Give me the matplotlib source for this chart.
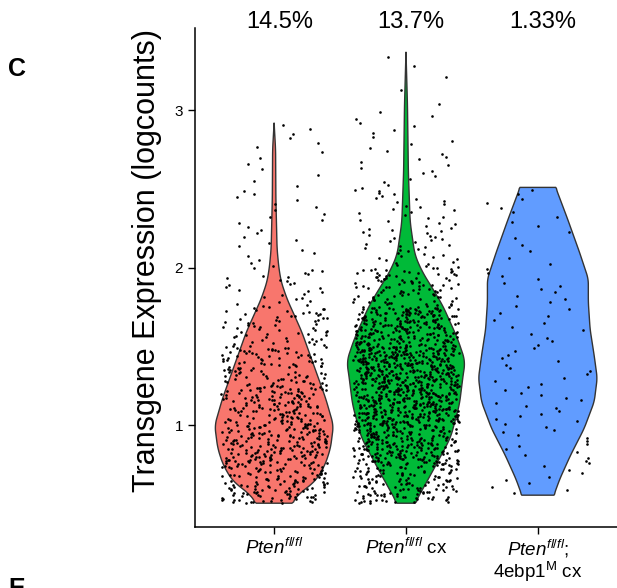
import numpy as np
import matplotlib
matplotlib.use("Agg")
import matplotlib.pyplot as plt

plt.rcParams["font.family"] = ["Liberation Sans", "DejaVu Sans"]
plt.rcParams["mathtext.fontset"] = "custom"
plt.rcParams["mathtext.rm"] = "Liberation Sans"
plt.rcParams["mathtext.it"] = "Liberation Sans:italic"

# groups
groups = ["red", "green", "blue"]
tick_labels = [r"$\mathit{Pten}^{\mathit{fl/fl}}$",
               r"$\mathit{Pten}^{\mathit{fl/fl}}$ cx",
               r"$\mathit{Pten}^{\mathit{fl/fl}}\mathit{;}$" + "\n" + r"4ebp1$^{\mathrm{M}}$ cx"]
percent_labels = ["14.5%", "13.7%", "1.33%"]
colors = ["#F8766D", "#00BA38", "#619CFF"]

# violin outlines: expression level and relative half width (1 = widest)
red_levels = [0.506, 0.56, 0.646, 0.75, 0.854, 1.0, 1.17, 1.38, 1.59, 1.70, 1.80, 1.91, 2.0, 2.12, 2.44, 2.75, 2.92]
red_width = [0.30, 0.40, 0.70, 0.86, 0.95, 1.0, 0.87, 0.67, 0.47, 0.34, 0.22, 0.12, 0.08, 0.05, 0.03, 0.025, 0.0]
green_levels = [0.506, 0.71, 0.92, 1.13, 1.34, 1.405, 1.55, 1.76, 1.88, 1.97, 2.08, 2.29, 2.61, 3.03, 3.37]
green_width = [0.15, 0.45, 0.75, 0.90, 0.97, 1.0, 0.87, 0.62, 0.43, 0.28, 0.15, 0.07, 0.04, 0.025, 0.0]
blue_levels = [0.557, 0.66, 0.81, 0.98, 1.15, 1.30, 1.44, 1.61, 1.78, 1.93, 2.10, 2.31, 2.51]
blue_width = [0.27, 0.37, 0.55, 0.78, 0.95, 1.0, 0.95, 0.88, 0.85, 0.85, 0.70, 0.50, 0.30]

# cell counts per expression bin
red_edges = [0.506, 0.75, 1.0, 1.25, 1.5, 1.75, 2.0, 2.25, 2.5, 2.75, 2.92]
red_counts = [130, 165, 140, 100, 62, 28, 12, 12, 7, 6]
green_edges = [0.506, 0.75, 1.0, 1.25, 1.5, 1.75, 2.0, 2.25, 2.5, 2.75, 3.0, 3.25, 3.37]
green_counts = [130, 230, 300, 320, 230, 95, 35, 25, 14, 11, 3, 2]
blue_edges = [0.557, 0.75, 1.0, 1.25, 1.5, 1.75, 2.0, 2.25, 2.51]
blue_counts = [9, 14, 15, 12, 11, 12, 6, 9]

levels = [red_levels, green_levels, blue_levels]
widths = [red_width, green_width, blue_width]
edges = [red_edges, green_edges, blue_edges]
counts = [red_counts, green_counts, blue_counts]


def outline(lv, w):
    # round off the corners of the traced outline a little
    y = np.linspace(lv[0], lv[-1], 300)
    hw = np.interp(y, lv, w)
    k = 11
    pad = np.concatenate([np.full(k, hw[0]), hw, np.full(k, hw[-1])])
    sm = np.convolve(pad, np.ones(k) / k, mode="same")[k:-k]
    sm[0], sm[-1] = hw[0], hw[-1]
    return y, sm


def jitter(idx):
    # integer hash -> [0, 1), stands in for geom_jitter's horizontal jitter
    m = np.uint64(0xFFFFFFFF)
    h = (idx.astype(np.uint64) * np.uint64(0x9E3779B9)) & m
    h ^= h >> np.uint64(16)
    h = (h * np.uint64(0x85EBCA6B)) & m
    h ^= h >> np.uint64(13)
    h = (h * np.uint64(0xC2B2AE35)) & m
    h ^= h >> np.uint64(16)
    return h.astype(np.float64) / 4294967296.0


def main():
    fig = plt.figure(figsize=(6.17, 5.88), dpi=100)
    ax = fig.add_axes([0.316, 0.104, 0.684, 0.848])

    for i in range(3):
        pos = i + 1
        y, hw = outline(levels[i], widths[i])
        hw = hw * 0.45
        xs = np.concatenate([pos - hw, (pos + hw)[::-1]])
        ys = np.concatenate([y, y[::-1]])
        ax.fill(xs, ys, facecolor=colors[i], edgecolor="#333333", linewidth=1.0, zorder=2)

    # cells: values spread evenly inside each bin, x jitter of +-0.4 like geom_jitter
    for i in range(3):
        pos = i + 1
        k = 0
        px, py = [], []
        for lo, hi, c in zip(edges[i][:-1], edges[i][1:], counts[i]):
            j = np.arange(c)
            py.append(lo + (hi - lo) * (j + 0.5) / c)
            g = np.arange(k, k + c) + 1 + 5000 * i
            px.append(pos - 0.4 + 0.8 * jitter(g))
            k += c
        ax.scatter(np.concatenate(px), np.concatenate(py), s=3.6, c="black",
                   linewidths=0, zorder=3)

    ax.set_xlim(0.4, 3.6)
    ax.set_ylim(0.356, 3.52)
    ax.set_yticks([1, 2, 3])
    ax.set_xticks([1, 2, 3])
    ax.set_xticklabels(tick_labels, fontsize=13.5, linespacing=1.0)
    ax.tick_params(axis="y", labelsize=11, length=5, width=1, colors="black")
    ax.tick_params(axis="x", length=5, width=1, colors="black", pad=3)
    for s in ["top", "right"]:
        ax.spines[s].set_visible(False)
    for s in ["left", "bottom"]:
        ax.spines[s].set_linewidth(1.1)
        ax.spines[s].set_color("black")

    ax.set_ylabel("Transgene Expression (logcounts)", fontsize=22)
    ax.yaxis.set_label_coords(-0.078, 0.535)

    for i, lab in enumerate(percent_labels):
        ax.text(i + 1.04, 1.0, lab, transform=ax.get_xaxis_transform(),
                ha="center", va="baseline", fontsize=17)

    fig.text(0.028, 0.883, "C", fontsize=18, fontweight="bold", ha="center", va="center")
    fig.text(0.013, 0.019, "E", fontsize=18, fontweight="bold", ha="left", va="top")

    fig.savefig("out.png", dpi=100)


if __name__ == "__main__":
    main()
